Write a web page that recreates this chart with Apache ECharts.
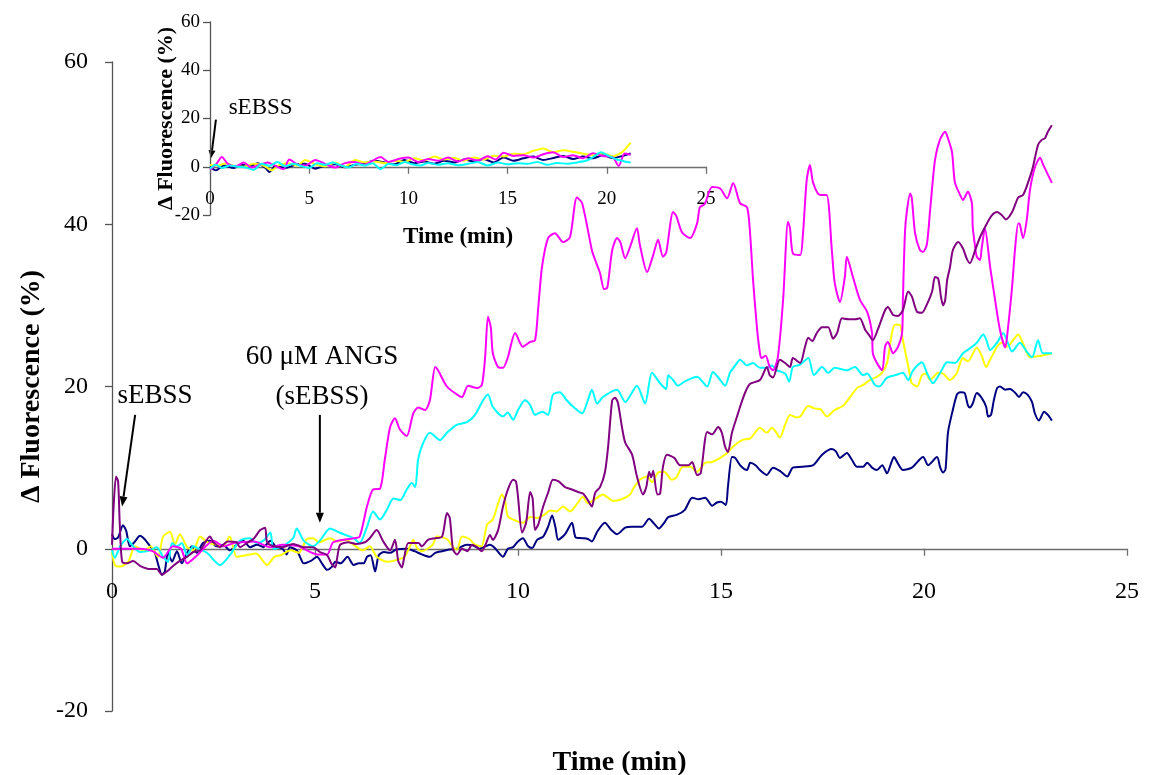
<!DOCTYPE html>
<html>
<head>
<meta charset="utf-8">
<script src="https://cdn.jsdelivr.net/npm/echarts@6.0.0/dist/echarts.min.js"></script>
<style>
  html, body { margin: 0; padding: 0; background: #ffffff; }
  #chart { width: 1151px; height: 775px; }
</style>
</head>
<body>
<div id="chart"></div>
<script>
// ---- Tick labels and axis titles ----
const xTicks = [0, 5, 10, 15, 20, 25];
const yTicks = [-20, 0, 20, 40, 60];
const xTitle = 'Time (min)';
const yTitle = 'Δ Fluorescence (%)';

// ---- Main panel: ΔF (%) vs time (min), 60 µM ANGS applied at ~5 min ----
const magenta = [[0,0],[0.3,0],[0.7,0],[1.0,-0.3],[1.26,-1.1],[1.5,0.3],[1.7,0],[1.85,-1.8],[2.1,-0.8],[2.5,1.0],[2.75,0.3],[3.0,0.7],[3.5,0.9],[3.9,0.2],[4.2,0.5],[4.6,0.3],[5.05,-0.7],[5.3,-0.7],[5.45,0.8],[5.95,1.3],[6.1,1.5],[6.28,5.2],[6.43,7.3],[6.6,7.4],[6.72,11],[6.85,15],[6.97,16.1],[7.09,14.7],[7.26,13.9],[7.42,16.7],[7.54,17.4],[7.71,17.1],[7.83,18.3],[7.96,22.4],[8.03,22],[8.25,20],[8.5,19],[8.62,18.7],[8.77,20.1],[8.99,19.8],[9.11,20.2],[9.19,23.6],[9.26,28.6],[9.33,27.3],[9.38,24.1],[9.51,22.4],[9.63,22.3],[9.75,23.6],[9.93,26.6],[10.12,24.9],[10.3,25.5],[10.42,25.7],[10.5,29.8],[10.59,34.7],[10.74,38.3],[10.91,38.9],[11.11,37.8],[11.28,38.4],[11.45,43.3],[11.58,42.6],[11.82,36.8],[11.9,35.6],[12.02,34],[12.12,32],[12.2,32.2],[12.32,36.8],[12.44,38.3],[12.52,37.8],[12.64,35.8],[12.76,37.2],[12.93,39.5],[13.0,37.5],[13.18,34.1],[13.33,36.2],[13.45,38.1],[13.57,36],[13.65,36.5],[13.82,41.5],[13.9,41],[14.04,39],[14.24,38.3],[14.41,40.1],[14.48,42.1],[14.6,42.5],[14.78,44.6],[14.98,44.4],[15.15,43.2],[15.3,45.1],[15.47,42.6],[15.64,42.1],[15.71,39.3],[15.79,33.1],[15.89,27],[15.96,24.1],[16.0,23.5],[16.1,23.8],[16.2,22.4],[16.28,22],[16.4,23.6],[16.53,30.7],[16.65,40.3],[16.7,39.5],[16.77,36.4],[16.95,36.2],[17.02,38.9],[17.11,45.4],[17.19,47.3],[17.27,45.1],[17.44,43.6],[17.6,43.6],[17.73,36.8],[17.8,32.8],[17.93,30.4],[18.05,33.5],[18.1,36],[18.25,33.5],[18.42,30.7],[18.6,29.2],[18.72,26.6],[18.74,24.1],[18.84,22.9],[18.97,22],[19.04,24.9],[19.11,25.5],[19.24,24.1],[19.36,24.9],[19.46,26.6],[19.48,30.7],[19.53,38.9],[19.58,41.7],[19.66,43.8],[19.7,43.2],[19.78,38.9],[19.9,36.8],[19.98,36.6],[20.07,37.5],[20.15,41.7],[20.27,47.9],[20.39,50.4],[20.52,51.4],[20.59,50.6],[20.69,48.9],[20.76,45.2],[20.89,43.6],[20.96,43],[21.08,44],[21.18,42.6],[21.2,39.7],[21.26,37.2],[21.3,36],[21.38,35.6],[21.42,37],[21.5,39.5],[21.63,34.7],[21.75,30.7],[21.87,27],[22.0,24.8],[22.07,27.3],[22.17,32.3],[22.24,36.8],[22.32,40.1],[22.36,40],[22.44,38.3],[22.53,40.5],[22.61,44.2],[22.73,47],[22.86,48.2],[22.93,47.4],[23.15,45.1]];

const cyan = [[0,-0.2],[0.07,-1.1],[0.2,0.3],[0.37,1.2],[0.52,0.3],[0.69,-0.4],[0.94,-0.2],[1.1,0.2],[1.26,-1.0],[1.38,-1.6],[1.48,0.7],[1.6,0.3],[1.72,0.7],[1.85,-0.8],[2.0,0.3],[2.17,-0.1],[2.34,-0.5],[2.66,-2.0],[2.9,-0.8],[3.15,1.0],[3.4,1.3],[3.55,0.7],[3.73,1.0],[3.9,2.0],[3.98,0.0],[4.2,0.3],[4.46,1.3],[4.55,2.5],[4.72,1.0],[4.95,0.3],[5.12,1.0],[5.37,2.5],[5.6,2.0],[5.8,1.6],[5.95,1.3],[6.1,0.7],[6.28,2.7],[6.43,4.6],[6.6,3.6],[6.77,4.8],[6.93,6.2],[7.1,6.0],[7.26,7.3],[7.38,8.1],[7.47,7.6],[7.54,11],[7.66,13],[7.83,14.3],[8.08,13.4],[8.25,14.3],[8.5,15.3],[8.74,15.6],[8.94,16.5],[9.14,18.3],[9.26,19],[9.38,17.5],[9.63,16.3],[9.75,16.8],[9.88,15.9],[10.0,17.1],[10.17,18.3],[10.3,17.7],[10.42,16.5],[10.6,16.9],[10.74,16.5],[10.86,19],[11.03,19.3],[11.2,18.3],[11.36,17.5],[11.58,16.7],[11.72,18.3],[11.82,19.6],[11.95,17.9],[12.09,18.7],[12.44,19.6],[12.64,18.1],[12.93,20.1],[13.13,17.9],[13.3,21.7],[13.5,20.4],[13.65,19.7],[13.7,21.4],[13.82,20.8],[13.94,20.1],[14.1,20.6],[14.41,21.2],[14.66,20.0],[14.8,21.8],[14.92,21.2],[15.1,20.1],[15.22,21.7],[15.35,22.6],[15.47,23.3],[15.64,22.6],[15.79,22.9],[15.96,22.3],[16.13,22.3],[16.25,22.6],[16.38,22.0],[16.58,21.6],[16.68,20.6],[16.77,22.4],[16.95,22.7],[17.15,23.5],[17.29,21.4],[17.49,22.4],[17.64,21.7],[17.8,22.3],[18.1,22],[18.3,22.4],[18.5,21.4],[18.6,21.6],[18.79,20.2],[18.9,20],[19.09,21.1],[19.3,21.4],[19.48,21.7],[19.61,20.8],[19.73,22],[19.95,23],[20.07,21.7],[20.22,20.4],[20.4,21.7],[20.57,23],[20.76,22.9],[20.96,24.1],[21.13,24.7],[21.3,25.4],[21.46,26.4],[21.53,25.8],[21.63,24.5],[21.8,25.4],[21.95,26.6],[22.05,25.6],[22.17,24.3],[22.36,25.4],[22.53,24.3],[22.66,23.6],[22.81,25.7],[22.93,24.1],[23.15,24.1]];

const yellow = [[0,-0.3],[0.07,-2.0],[0.2,-2.2],[0.4,-1.6],[0.57,0.3],[0.8,-0.3],[0.95,0.3],[1.13,-1.0],[1.26,1.5],[1.43,2.1],[1.55,0.5],[1.67,1.8],[1.85,0.2],[2.0,-0.2],[2.17,1.5],[2.35,0.8],[2.55,0.5],[2.73,0.3],[2.9,1.5],[3.07,-1.0],[3.3,-0.8],[3.55,-0.6],[3.82,-2.0],[4.0,-1.0],[4.15,-0.8],[4.4,-0.2],[4.6,-0.5],[4.8,1.2],[4.95,1.3],[5.1,0.8],[5.37,1.3],[5.55,0.9],[5.75,1.1],[5.95,0.5],[6.18,-0.2],[6.35,0.3],[6.52,-1.0],[6.77,-1.6],[7.0,-1.4],[7.2,-1.0],[7.32,0.1],[7.42,1.1],[7.5,0.2],[7.63,-0.3],[7.9,0.5],[8.0,1.5],[8.25,1.2],[8.4,0.2],[8.5,-0.1],[8.62,1.5],[8.8,1.2],[8.94,0.5],[9.1,0.3],[9.24,3.0],[9.38,3.6],[9.51,5.6],[9.6,6.7],[9.68,6.0],[9.75,4.0],[9.97,3.4],[10.12,3.2],[10.3,3.9],[10.47,3.8],[10.65,4.2],[10.79,4.7],[10.95,4.6],[11.11,5.2],[11.28,4.6],[11.45,5.5],[11.6,6.4],[11.72,5.6],[11.95,6.3],[12.09,6.7],[12.34,5.9],[12.55,6.1],[12.76,6.7],[12.85,7.5],[13.0,8.5],[13.18,8.9],[13.3,8.2],[13.45,9.4],[13.6,9.5],[13.79,8.5],[13.9,8.8],[14.06,10.1],[14.25,10.1],[14.41,9.5],[14.61,10.6],[14.78,10.7],[14.98,11.2],[15.15,11.8],[15.3,12.6],[15.52,13.4],[15.72,13.6],[15.96,14.9],[16.13,14.3],[16.25,14.9],[16.35,14.4],[16.45,13.7],[16.58,15.3],[16.7,16.5],[16.85,16.2],[16.95,16.3],[17.15,17.6],[17.3,17.3],[17.45,17.2],[17.61,16.3],[17.8,17.1],[18.0,17.6],[18.18,18.7],[18.35,19.8],[18.5,20.2],[18.67,20.8],[18.84,21.2],[18.97,21.7],[19.09,22.9],[19.21,26.6],[19.29,27.6],[19.4,27.6],[19.48,25.7],[19.58,23.3],[19.66,21.2],[19.7,20.4],[19.83,20.0],[19.95,21.4],[20.05,21.6],[20.15,20.8],[20.35,21.7],[20.47,21.6],[20.64,20.8],[20.8,21.6],[20.96,23.5],[21.08,23.1],[21.3,24.8],[21.42,23.8],[21.53,22.4],[21.63,23.3],[21.8,24.9],[21.92,25.4],[22.05,24.9],[22.19,25.7],[22.32,26.4],[22.44,25.3],[22.61,23.6],[22.75,23.7],[22.9,23.8],[23.15,24.1]];

const purple = [[0,0.5],[0.04,5.2],[0.1,8.9],[0.15,8.3],[0.19,3.2],[0.25,-1.6],[0.37,-1.8],[0.52,-1.5],[0.69,-2.1],[0.94,-2.5],[1.1,-2.5],[1.23,-3.2],[1.35,-2.8],[1.51,-2.1],[1.67,-1.5],[1.85,-1.0],[2.0,-0.4],[2.17,-0.2],[2.41,1.5],[2.5,0.8],[2.66,0.2],[2.85,0.9],[3.07,0.8],[3.15,0.2],[3.32,0.7],[3.5,1.3],[3.65,2.3],[3.77,2.6],[3.82,0.8],[3.98,0.3],[4.2,0.2],[4.46,0.6],[4.72,0.2],[4.95,0.2],[5.12,-0.4],[5.3,-0.8],[5.4,-1.8],[5.5,-2.3],[5.55,-1.0],[5.62,0.5],[5.82,0.8],[6.0,0.6],[6.23,0.8],[6.35,1.3],[6.52,2.3],[6.68,0.9],[6.85,-0.2],[6.97,1.1],[7.05,-1.5],[7.14,-2.3],[7.2,-1.0],[7.3,0.7],[7.55,0.7],[7.63,0.3],[7.78,1.1],[7.95,1.3],[8.13,1.5],[8.25,4.4],[8.32,3.8],[8.4,-0.1],[8.5,-0.7],[8.62,0.0],[8.75,-0.3],[8.87,0.5],[8.99,0.2],[9.11,-0.3],[9.2,0.5],[9.31,1.7],[9.38,1.1],[9.51,2.3],[9.63,5.2],[9.75,7.3],[9.88,8.5],[9.95,8.3],[10.0,6.4],[10.1,2.0],[10.2,3.2],[10.3,7.0],[10.36,6.2],[10.42,2.3],[10.5,3.0],[10.62,5.2],[10.74,6.9],[10.86,8.5],[11.0,8.3],[11.16,7.6],[11.33,7.3],[11.48,7.0],[11.6,6.8],[11.72,6.0],[11.82,5.2],[11.9,6.9],[12.02,7.6],[12.14,9.4],[12.22,12.6],[12.32,18.3],[12.39,18.6],[12.46,18.0],[12.56,15.0],[12.64,13.1],[12.81,11.6],[12.93,8.9],[13.08,6.7],[13.16,7.6],[13.23,9.5],[13.28,8.8],[13.33,9.6],[13.43,6.7],[13.5,6.8],[13.57,10.1],[13.67,11.6],[13.85,11.2],[13.99,10.3],[14.2,10.3],[14.29,10.7],[14.41,9.1],[14.5,9.3],[14.66,14.4],[14.78,14.1],[14.93,15.0],[15.02,14.3],[15.1,12.6],[15.17,11.9],[15.27,14.3],[15.42,16.7],[15.47,17.5],[15.59,19.2],[15.71,20.3],[15.96,20.8],[16.13,22.4],[16.2,21.4],[16.28,21.1],[16.45,23.3],[16.58,22.9],[16.7,22.4],[16.77,23.5],[16.95,22.9],[17.07,24.9],[17.15,26.0],[17.25,25.6],[17.36,26.6],[17.49,27.3],[17.64,27.3],[17.76,25.9],[17.86,26.6],[17.98,28.4],[18.15,28.3],[18.3,28.3],[18.42,28.4],[18.55,27.0],[18.64,26.4],[18.74,25.7],[18.86,27.0],[19.04,29.4],[19.11,29.8],[19.24,28.8],[19.36,28.7],[19.48,29.4],[19.61,31.7],[19.7,31.1],[19.83,29.2],[19.95,29.1],[20.07,30.1],[20.2,31.7],[20.27,33.5],[20.35,33.3],[20.42,31.0],[20.47,30.0],[20.52,30.6],[20.57,33.1],[20.64,34.7],[20.71,36.8],[20.84,37.8],[20.96,37.0],[21.05,35.8],[21.13,35.2],[21.26,36.8],[21.38,38.4],[21.55,40.1],[21.67,41.1],[21.8,41.5],[21.92,41.1],[22.02,40.6],[22.17,41.5],[22.32,43.3],[22.44,43.6],[22.56,45.1],[22.68,47.0],[22.81,49.8],[22.9,50.4],[22.98,50.6],[23.05,51.4],[23.15,52.2]];

const navy = [[0,1.8],[0.07,1.2],[0.15,1.4],[0.27,2.9],[0.35,2.2],[0.44,0.3],[0.55,0.8],[0.69,1.6],[0.8,1.2],[0.94,0.3],[1.05,-0.4],[1.14,-2.0],[1.23,-3.2],[1.3,-2.8],[1.38,-0.4],[1.48,-1.6],[1.6,-0.3],[1.72,-1.8],[1.85,-0.5],[1.97,0.3],[2.09,-0.5],[2.24,0.7],[2.41,1.0],[2.58,0.3],[2.74,0.5],[2.9,-0.2],[3.07,0.5],[3.23,1.0],[3.4,0.2],[3.57,0.5],[3.73,0.2],[3.9,1.0],[4.05,0.2],[4.2,0.0],[4.3,-0.7],[4.38,0.2],[4.55,-0.2],[4.64,-1.1],[4.72,-1.8],[4.9,-1.5],[5.05,-1.0],[5.17,-1.8],[5.3,-2.6],[5.42,-2.2],[5.5,-1.6],[5.63,-1.8],[5.8,-1.0],[5.95,-2.0],[6.08,-1.8],[6.2,-1.8],[6.28,-1.0],[6.37,-0.8],[6.48,-2.8],[6.57,-0.8],[6.7,-0.4],[6.85,-0.5],[7.0,-0.1],[7.26,0.0],[7.45,-0.3],[7.63,-0.7],[7.83,-1.0],[7.96,-0.5],[8.13,-0.3],[8.3,-0.1],[8.5,0.0],[8.74,0.5],[8.9,0.4],[9.05,0.0],[9.2,0.3],[9.31,0.5],[9.43,0.1],[9.56,-0.7],[9.63,-1.0],[9.75,0.0],[9.88,0.2],[10.0,0.9],[10.12,1.3],[10.25,0.3],[10.35,0.1],[10.47,1.1],[10.62,1.5],[10.74,2.7],[10.84,4.1],[10.92,2.7],[10.99,1.1],[11.16,1.8],[11.33,3.2],[11.42,1.4],[11.58,1.3],[11.72,1.2],[11.82,0.9],[11.95,2.1],[12.14,3.2],[12.3,2.3],[12.44,1.8],[12.64,2.6],[12.8,2.7],[13.05,2.7],[13.23,3.7],[13.35,3.1],[13.47,2.5],[13.6,3.2],[13.7,3.9],[13.92,4.2],[14.11,4.8],[14.29,6.3],[14.45,6.1],[14.61,6.3],[14.78,5.3],[14.9,5.7],[15.0,5.8],[15.12,5.4],[15.17,7.6],[15.27,11.3],[15.35,11.2],[15.47,10.3],[15.64,9.7],[15.72,10.6],[15.85,10.3],[15.96,9.7],[16.13,9.1],[16.28,10.0],[16.45,9.6],[16.63,8.9],[16.77,10.0],[17.0,10.1],[17.27,10.3],[17.49,11.6],[17.73,12.3],[17.83,12.0],[17.93,11.2],[18.1,11.8],[18.22,11.0],[18.35,10.1],[18.5,10.1],[18.6,10.6],[18.72,10.0],[18.84,9.7],[18.97,10.3],[19.09,9.3],[19.18,10.4],[19.26,11.3],[19.36,10.5],[19.48,9.7],[19.7,10.0],[19.98,11.3],[20.1,10.3],[20.32,11.3],[20.4,10.0],[20.47,9.4],[20.53,9.8],[20.59,14.3],[20.69,16.7],[20.81,19.0],[20.89,19.3],[21.0,19.2],[21.08,17.7],[21.13,17.4],[21.2,17.9],[21.3,19.2],[21.42,18.6],[21.53,17.5],[21.58,16.3],[21.65,16.5],[21.72,18.3],[21.8,19.8],[21.87,20.0],[22.0,19.6],[22.12,19.7],[22.25,19.2],[22.34,18.7],[22.44,19.3],[22.55,19.0],[22.66,18.1],[22.73,16.7],[22.83,15.8],[22.96,16.9],[23.05,16.5],[23.15,15.8]];

// ---- Inset panel: sEBSS alone (control) ----
const insetNavy = [[0,0],[0.3,-1.5],[0.7,0.5],[1.2,-0.5],[1.6,0.8],[2.0,0.2],[2.4,1.5],[2.8,-0.5],[3.0,-2.2],[3.3,0.3],[3.8,-0.5],[4.3,0.8],[4.8,1.2],[5.3,-0.8],[5.8,0.5],[6.3,1.0],[6.8,-0.2],[7.3,0.8],[7.8,1.5],[8.3,2.5],[8.8,1.8],[9.3,1.0],[9.8,2.8],[10.3,1.5],[10.8,2.2],[11.3,1.2],[11.8,2.5],[12.3,1.8],[12.8,3.0],[13.3,2.2],[13.8,3.2],[14.3,1.8],[14.8,3.8],[15.3,2.5],[15.8,3.5],[16.3,4.2],[16.8,2.8],[17.3,3.6],[17.8,4.5],[18.3,3.2],[18.8,4.2],[19.3,3.5],[19.8,4.8],[20.3,3.6],[20.8,4.5],[21.2,5.5]];
const insetMagenta = [[0,-1.2],[0.3,1.0],[0.6,4.0],[0.9,1.2],[1.3,0.2],[1.7,1.8],[2.1,-0.3],[2.5,0.8],[2.9,1.8],[3.3,0.3],[3.7,-1.0],[4.0,3.0],[4.4,1.0],[4.8,0.5],[5.3,2.8],[5.8,1.2],[6.3,-0.3],[6.8,1.5],[7.3,2.0],[7.8,0.8],[8.2,2.5],[8.6,4.0],[9.0,2.0],[9.5,3.2],[10.0,3.8],[10.5,2.0],[11.0,3.2],[11.5,2.5],[12.0,3.8],[12.5,2.2],[13.0,3.5],[13.5,2.6],[14.0,4.4],[14.4,3.0],[14.8,5.8],[15.3,4.5],[15.8,4.8],[16.3,3.8],[16.8,5.2],[17.3,6.0],[17.8,4.0],[18.3,4.8],[18.8,3.5],[19.3,5.6],[19.8,4.5],[20.3,4.0],[20.6,0.3],[20.9,5.5],[21.2,5.0]];
const insetYellow = [[0,0.7],[0.4,0.5],[0.8,1.5],[1.2,0.3],[1.7,0.0],[2.2,1.2],[2.7,0.5],[3.1,-1.5],[3.5,0.8],[3.9,1.5],[4.4,0.5],[4.8,2.8],[5.3,1.0],[5.8,0.2],[6.3,1.8],[6.8,0.0],[7.3,2.8],[7.8,1.8],[8.3,2.2],[8.8,1.5],[9.3,2.5],[9.8,2.0],[10.3,3.5],[10.8,2.6],[11.3,4.2],[11.8,3.0],[12.3,3.6],[12.8,2.5],[13.3,3.8],[13.8,3.0],[14.3,4.6],[14.8,4.2],[15.3,5.4],[15.8,5.2],[16.3,6.6],[16.8,7.6],[17.3,6.0],[17.8,6.8],[18.3,6.2],[18.8,5.4],[19.3,4.8],[19.8,5.6],[20.3,4.4],[20.8,6.2],[21.0,8.0],[21.2,10.0]];
const insetCyan = [[0,-0.8],[0.3,0.8],[0.6,-0.5],[1.0,0.5],[1.4,0.0],[1.8,-0.3],[2.2,-1.3],[2.6,1.2],[3.0,0.4],[3.4,2.0],[3.8,0.2],[4.2,1.2],[4.6,0.3],[5.0,-0.5],[5.4,1.5],[5.8,0.8],[6.2,1.8],[6.6,0.5],[7.0,-0.3],[7.4,1.2],[7.8,0.5],[8.2,1.5],[8.6,-1.0],[9.0,1.2],[9.4,0.6],[9.8,2.0],[10.2,1.0],[10.6,0.5],[11.0,1.6],[11.5,0.8],[12.0,1.5],[12.5,0.6],[13.0,1.2],[13.5,2.0],[14.0,0.5],[14.5,1.8],[15.0,1.0],[15.5,1.5],[16.0,1.2],[16.5,2.0],[17.0,0.8],[17.5,1.6],[18.0,1.2],[18.5,1.8],[19.0,2.6],[19.4,4.5],[19.7,6.0],[20.1,4.5],[20.5,3.0],[20.9,2.2],[21.2,1.8]];

// ---- Annotations (data units): [tail, tip] for each arrow ----
const mainAddArrow = [[0.57, 16.5], [0.25, 5.2]];
const angsArrow = [[5.12, 16.5], [5.12, 3.2]];
const insetAddArrow = [[0.3, 19.5], [0.05, 3.5]];

const SERIF = '"Liberation Serif", "Times New Roman", serif';
const COLORS = { magenta: '#ff00ff', cyan: '#00ffff', yellow: '#ffff00', purple: '#800080', navy: '#000080' };

const chart = echarts.init(document.getElementById('chart'), null, { renderer: 'canvas' });

function xAxisFor(gridIndex, fontSize, nameSize, margin, nameGap) {
  return {
    gridIndex, type: 'value', min: 0, max: 25, interval: 5,
    name: xTitle, nameLocation: 'middle', nameGap, nameMoveOverlap: false,
    nameTextStyle: { fontFamily: SERIF, fontWeight: 'bold', fontSize: nameSize, color: '#000' },
    axisLine: { onZero: true, lineStyle: { color: '#6e6e6e', width: 1.3 } },
    axisTick: { show: true, inside: false, length: 7, lineStyle: { color: '#6e6e6e', width: 1.3 } },
    axisLabel: { fontFamily: SERIF, fontSize, color: '#000', margin, formatter: v => xTicks.includes(v) ? String(v) : '' },
    splitLine: { show: false }
  };
}
function yAxisFor(gridIndex, fontSize, nameSize, margin, nameGap) {
  return {
    gridIndex, type: 'value', min: -20, max: 60, interval: 20,
    name: yTitle, nameLocation: 'middle', nameGap, nameMoveOverlap: false,
    nameTextStyle: { fontFamily: SERIF, fontWeight: 'bold', fontSize: nameSize, color: '#000' },
    axisLine: { onZero: false, lineStyle: { color: '#555', width: 1.3 } },
    axisTick: { show: true, inside: false, length: 7, lineStyle: { color: '#555', width: 1.3 } },
    axisLabel: { fontFamily: SERIF, fontSize, color: '#000', margin, formatter: v => yTicks.includes(v) ? String(v) : '' },
    splitLine: { show: false }
  };
}
function trace(data, color, gridIdx) {
  return {
    type: 'line', xAxisIndex: gridIdx, yAxisIndex: gridIdx, data,
    showSymbol: false, symbol: 'none', smooth: 0.25,
    lineStyle: { color, width: 2 }, itemStyle: { color },
    silent: true, animation: false
  };
}

chart.setOption({
  backgroundColor: '#ffffff',
  animation: false,
  grid: [
    { left: 112, right: 24, top: 62, bottom: 64, containLabel: false, outerBoundsMode: 'none' },
    { left: 210, top: 22, width: 496, height: 193, containLabel: false, outerBoundsMode: 'none' }
  ],
  xAxis: [xAxisFor(0, 24, 28, -131, 38), xAxisFor(1, 19, 23, -25, 11)],
  yAxis: [yAxisFor(0, 24, 28, 24, 66), yAxisFor(1, 19, 22, 10, 33)],
  series: [
    trace(navy, COLORS.navy, 0),
    trace(yellow, COLORS.yellow, 0),
    trace(cyan, COLORS.cyan, 0),
    trace(magenta, COLORS.magenta, 0),
    trace(purple, COLORS.purple, 0),
    trace(insetNavy, COLORS.navy, 1),
    trace(insetYellow, COLORS.yellow, 1),
    trace(insetMagenta, COLORS.magenta, 1),
    trace(insetCyan, COLORS.cyan, 1)
  ]
});

// Arrows and annotation text placed through the axes' own scales
function toPx(gridIndex, p) { return chart.convertToPixel({ gridIndex }, p); }
function arrow(gridIndex, pair, headLen, headHalf) {
  const a = toPx(gridIndex, pair[0]);
  const b = toPx(gridIndex, pair[1]);
  const dx = b[0] - a[0], dy = b[1] - a[1];
  const len = Math.hypot(dx, dy);
  const ux = dx / len, uy = dy / len;
  const bx = b[0] - ux * headLen, by = b[1] - uy * headLen;
  return [
    { type: 'line', shape: { x1: a[0], y1: a[1], x2: bx, y2: by }, style: { stroke: '#000', lineWidth: 2 }, silent: true },
    { type: 'polygon', shape: { points: [[b[0], b[1]], [bx - uy * headHalf, by + ux * headHalf], [bx + uy * headHalf, by - ux * headHalf]] }, style: { fill: '#000' }, silent: true }
  ];
}
function label(gridIndex, p, text, size) {
  const q = toPx(gridIndex, p);
  return { type: 'text', x: q[0], y: q[1], silent: true,
    style: { text, fontFamily: SERIF, fontSize: size, fill: '#000', align: 'center', verticalAlign: 'middle' } };
}

chart.setOption({
  graphic: [
    ...arrow(0, mainAddArrow, 10, 4),
    ...arrow(0, angsArrow, 10, 4),
    ...arrow(1, insetAddArrow, 8, 3.5),
    label(0, [1.06, 18.9], 'sEBSS', 27),
    label(0, [5.17, 23.6], '60 μM ANGS', 27),
    label(0, [5.17, 18.7], '(sEBSS)', 27),
    label(1, [2.55, 24.5], 'sEBSS', 23)
  ]
});
</script>
</body>
</html>
